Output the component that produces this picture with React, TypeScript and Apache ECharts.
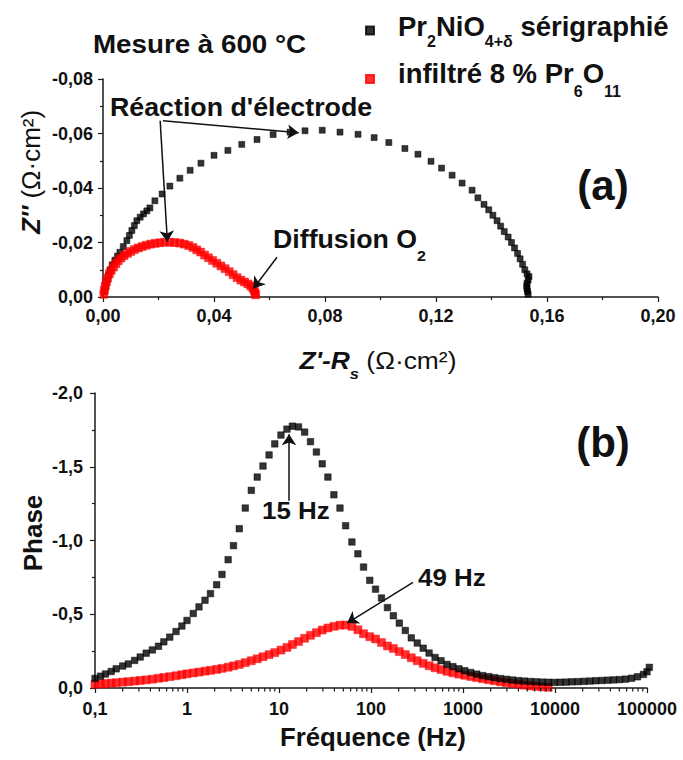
import React, { useEffect, useRef } from 'react';
import * as echarts from 'echarts';

// ---------- DATA ----------
const NAME_A = 'Pr2NiO4+δ sérigraphié';
const NAME_B = 'infiltré 8 % Pr6O11';

// Nyquist (a): Z'-Rs, Z''
const nyqBlackX = [0.0005,0.001,0.0015,0.002,0.0025,0.0033,0.0043,0.0052,0.0061,0.0073,0.0086,0.0095,0.0104,0.0113,0.0122,0.0134,0.0146,0.0158,0.0169,0.0187,0.0213,0.0241,0.0277,0.0314,0.0353,0.040,0.045,0.050,0.0555,0.0613,0.0674,0.0728,0.079,0.0854,0.0919,0.0977,0.103,0.1088,0.1135,0.1182,0.122,0.1258,0.1294,0.133,0.1351,0.1373,0.139,0.1405,0.142,0.1433,0.1446,0.146,0.1472,0.1483,0.1494,0.1503,0.1512,0.152,0.1528,0.1535,0.1532,0.1528,0.1527,0.1528,0.153,0.1532];
const nyqBlackY = [-0.002,-0.004,-0.006,-0.008,-0.0098,-0.0118,-0.0135,-0.015,-0.0164,-0.0185,-0.0207,-0.0226,-0.0244,-0.0262,-0.028,-0.0293,-0.0305,-0.0316,-0.0327,-0.0353,-0.0378,-0.0407,-0.0436,-0.0465,-0.0491,-0.052,-0.0538,-0.056,-0.0578,-0.0596,-0.0605,-0.061,-0.0612,-0.0605,-0.0597,-0.0585,-0.0567,-0.0545,-0.0524,-0.0498,-0.0473,-0.0447,-0.0418,-0.0392,-0.0364,-0.034,-0.032,-0.030,-0.028,-0.026,-0.024,-0.022,-0.020,-0.018,-0.016,-0.014,-0.012,-0.010,-0.0085,-0.0075,-0.0062,-0.005,-0.004,-0.003,-0.002,-0.001];
const nyqRedX = [0.0003,0.0005,0.0008,0.0012,0.0017,0.0023,0.003,0.0038,0.0046,0.0055,0.0065,0.0076,0.0088,0.01,0.0113,0.0127,0.0141,0.0156,0.0172,0.0188,0.0205,0.0222,0.024,0.0258,0.0276,0.0293,0.0309,0.0324,0.0338,0.0352,0.0366,0.038,0.0395,0.041,0.0425,0.044,0.0455,0.0469,0.0483,0.0497,0.051,0.0522,0.0532,0.054,0.0545,0.0548,0.055];
const nyqRedY = [-0.001,-0.0025,-0.004,-0.0055,-0.007,-0.0085,-0.0098,-0.011,-0.0122,-0.0133,-0.0143,-0.0152,-0.016,-0.0167,-0.0174,-0.018,-0.0185,-0.019,-0.0194,-0.0197,-0.0199,-0.0201,-0.0201,-0.02,-0.0198,-0.0194,-0.0189,-0.0182,-0.0173,-0.0165,-0.0154,-0.0144,-0.0134,-0.0124,-0.0114,-0.0104,-0.0093,-0.0082,-0.0071,-0.0062,-0.0055,-0.0048,-0.0041,-0.0033,-0.0024,-0.0015,-0.0008];

// Bode phase (b)
const freqBlack = [0.1,0.115,0.13,0.15,0.17,0.2,0.23,0.27,0.31,0.36,0.42,0.49,0.56,0.65,0.76,0.88,1.0,1.17,1.35,1.57,1.8,2.1,2.4,2.8,3.2,3.7,4.3,5.0,5.8,6.7,7.8,9.0,10.5,12.2,14.0,16.3,19,22,25.5,29.5,34,39.5,46,53,62,72,83,97,112,130,151,175,203,236,274,318,369,428,497,577,670,777,902,1047,1215,1410,1637,1900,2200,2560,2970,3450,4000,4640,5390,6250,7260,8430,9780,11350,13180,15300,17760,20600,23930,27770,32230,37410,43430,50410,58510,67920,78840,91520,100000,106000];
const phaseBlack = [-0.065,-0.08,-0.095,-0.112,-0.13,-0.149,-0.163,-0.187,-0.21,-0.236,-0.258,-0.283,-0.313,-0.345,-0.383,-0.42,-0.458,-0.505,-0.55,-0.595,-0.64,-0.7,-0.77,-0.87,-0.965,-1.08,-1.22,-1.34,-1.43,-1.505,-1.58,-1.655,-1.715,-1.755,-1.775,-1.77,-1.735,-1.67,-1.6,-1.52,-1.43,-1.31,-1.22,-1.1,-0.99,-0.91,-0.82,-0.73,-0.67,-0.61,-0.545,-0.49,-0.44,-0.39,-0.34,-0.305,-0.27,-0.237,-0.207,-0.185,-0.16,-0.145,-0.13,-0.117,-0.105,-0.094,-0.084,-0.077,-0.07,-0.064,-0.059,-0.054,-0.05,-0.047,-0.044,-0.042,-0.04,-0.039,-0.038,-0.039,-0.04,-0.042,-0.043,-0.045,-0.047,-0.049,-0.051,-0.053,-0.055,-0.057,-0.06,-0.066,-0.076,-0.092,-0.11,-0.14];
const freqRed = [0.1,0.115,0.13,0.15,0.17,0.2,0.23,0.27,0.31,0.36,0.42,0.49,0.56,0.65,0.76,0.88,1.0,1.17,1.35,1.57,1.8,2.1,2.4,2.8,3.2,3.7,4.3,5.0,5.8,6.7,7.8,9.0,10.5,12.2,14.0,16.3,19,22,25.5,29.5,34,39.5,46,53,62,72,83,97,112,130,151,175,203,236,274,318,369,428,497,577,670,777,902,1047,1215,1410,1637,1900,2200,2560,2970,3450,4000,4640,5390,6250,7260,8430];
const phaseRed = [-0.025,-0.028,-0.03,-0.033,-0.036,-0.04,-0.043,-0.047,-0.051,-0.055,-0.06,-0.066,-0.071,-0.077,-0.083,-0.09,-0.096,-0.102,-0.108,-0.114,-0.12,-0.126,-0.133,-0.141,-0.15,-0.16,-0.172,-0.185,-0.198,-0.212,-0.226,-0.24,-0.257,-0.275,-0.295,-0.315,-0.337,-0.357,-0.375,-0.393,-0.407,-0.418,-0.426,-0.427,-0.418,-0.395,-0.368,-0.348,-0.332,-0.308,-0.285,-0.268,-0.247,-0.227,-0.205,-0.185,-0.167,-0.151,-0.137,-0.125,-0.113,-0.103,-0.094,-0.086,-0.078,-0.071,-0.063,-0.056,-0.049,-0.042,-0.036,-0.03,-0.025,-0.019,-0.014,-0.011,-0.008,-0.005];

// annotation arrows, in data units [from, to]
const arrowsTop: [number, number][][] = [
  [[0.0206, -0.0647], [0.0232, -0.0203]],
  [[0.0216, -0.0647], [0.0705, -0.0603]],
  [[0.0627, -0.0146], [0.0542, -0.0031]],
];
const arrowsBottom: [number, number][][] = [
  [[12.85, -1.27], [12.85, -1.72]],
  [[286, -0.716], [55, -0.44]],
];

const logDecades = [0.1, 1, 10, 100, 1000, 10000];
const logMinorMult = [2, 3, 4, 5, 6, 7, 8, 9];

const FF = '"Liberation Sans", Arial, Helvetica, sans-serif';
const INK = '#111';

const zip = (a: number[], b: number[]) => a.map((v, i) => [v, b[i]]);

export default function App() {
  const ref = useRef<HTMLDivElement>(null);
  useEffect(() => {
    if (!ref.current) return;
    const chart = echarts.init(ref.current, undefined, { renderer: 'svg' });

    const axisBase = {
      axisLine: { lineStyle: { color: '#1a1a1a', width: 1.5 } },
      axisTick: { length: 5, lineStyle: { color: '#1a1a1a', width: 1.2 } },
      minorTick: { show: true, splitNumber: 2, length: 3, lineStyle: { color: '#1a1a1a', width: 1.2 } },
      splitLine: { show: false },
      axisLabel: { fontSize: 18, fontWeight: 'bold', color: INK, fontFamily: FF, margin: 10 },
    };
    const comma = (d: number) => (v: number) => v.toFixed(d).replace('.', ',');

    const minorTicks: number[][] = [];
    logDecades.forEach((d) => logMinorMult.forEach((m) => minorTicks.push([d * m, 0])));

    const arrowStyle = {
      silent: true,
      symbol: ['none', 'arrow'],
      symbolSize: 11,
      lineStyle: { color: INK, width: 1.5, type: 'solid' },
      label: { show: false },
      emphasis: { disabled: true },
    };

    const mainTok = (size: number, extra: any = {}) => ({
      fontSize: size, fontWeight: 'bold', fontFamily: FF, color: INK, verticalAlign: 'top', padding: [0, 0, 0, 0], ...extra,
    });
    const txt = (x: number, y: number, text: string, size: number, sx: number, extra: any = {}) => ({
      type: 'text', x, y, scaleX: sx,
      style: { text, fontSize: size, fontWeight: 'bold', fontFamily: FF, fill: INK, textVerticalAlign: 'middle', ...extra },
    });
    const blackSq = { color: '#000', borderColor: '#000', borderWidth: 0.6 };
    const redSq = { color: '#ff0000', borderColor: '#ff0000', borderWidth: 0.5 };

    const option: any = {
      animation: false,
      backgroundColor: '#fff',
      legend: {
        orient: 'vertical', left: 365, top: 12, padding: 0, itemGap: 10,
        itemWidth: 8, itemHeight: 8, icon: 'rect', selectedMode: false,
        data: [NAME_A, NAME_B],
        formatter: (n: string) => n === NAME_A
          ? '{m0|Pr}{s|2}{m|NiO}{s|4+δ}{m| sérigraphié}'
          : '{m0|infiltré 8 % Pr}{s2|6}{m|O}{s2|11}',
        textStyle: {
          color: INK, fontFamily: FF, fontSize: 27.5, fontWeight: 'bold',
          rich: {
            m0: mainTok(27.5, { padding: [0, 0, 0, 19] }),
            m: mainTok(27.5),
            s: mainTok(16, { padding: [21, 0, 0, 0] }),
            s2: mainTok(16, { padding: [24, 0, 0, 0] }),
          },
        },
      },
      grid: [
        { left: 103, top: 79, width: 555, height: 218 },
        { left: 95, top: 393, width: 552, height: 295 },
      ],
      xAxis: [
        { ...axisBase, type: 'value', gridIndex: 0, min: 0, max: 0.2, interval: 0.04,
          axisLabel: { ...axisBase.axisLabel, formatter: comma(2) } },
        { ...axisBase, type: 'log', gridIndex: 1, logBase: 10, min: 0.1, max: 100000,
          minorTick: { show: false },
          axisLabel: { ...axisBase.axisLabel, margin: 12,
            formatter: (v: number) => (v < 1 ? String(+v.toFixed(1)).replace('.', ',') : String(Math.round(v))) } },
      ],
      yAxis: [
        { ...axisBase, type: 'value', gridIndex: 0, min: -0.08, max: 0, interval: 0.02, inverse: true,
          axisLabel: { ...axisBase.axisLabel, formatter: comma(2) } },
        { ...axisBase, type: 'value', gridIndex: 1, min: -2, max: 0, interval: 0.5, inverse: true,
          axisLabel: { ...axisBase.axisLabel, margin: 12, formatter: comma(1) } },
      ],
      series: [
        { type: 'scatter', name: NAME_A, xAxisIndex: 0, yAxisIndex: 0, symbol: 'rect', symbolSize: 6,
          itemStyle: blackSq, data: zip(nyqBlackX, nyqBlackY), z: 2 },
        { type: 'scatter', name: NAME_B, xAxisIndex: 0, yAxisIndex: 0, symbol: 'rect', symbolSize: 8,
          itemStyle: redSq, data: zip(nyqRedX, nyqRedY), z: 3,
          markLine: { ...arrowStyle, data: arrowsTop.map((a) => [{ coord: a[0] }, { coord: a[1] }]) } },
        { type: 'scatter', name: NAME_B, xAxisIndex: 1, yAxisIndex: 1, symbol: 'rect', symbolSize: 8,
          itemStyle: redSq, data: zip(freqRed, phaseRed), z: 2,
          markLine: { ...arrowStyle, data: arrowsBottom.map((a) => [{ coord: a[0] }, { coord: a[1] }]) } },
        { type: 'scatter', name: NAME_A, xAxisIndex: 1, yAxisIndex: 1, symbol: 'rect', symbolSize: 6.5,
          itemStyle: blackSq, data: zip(freqBlack, phaseBlack), z: 3, clip: false },
        { type: 'custom', xAxisIndex: 1, yAxisIndex: 1, silent: true, clip: false, z: 4,
          data: minorTicks,
          renderItem: (_p: any, api: any) => {
            const p = api.coord([api.value(0), api.value(1)]);
            return { type: 'line', shape: { x1: p[0], y1: p[1], x2: p[0], y2: p[1] + 3.5 },
              style: { stroke: '#1a1a1a', lineWidth: 1.2 } };
          } },
      ],
      graphic: [
        txt(93, 44, 'Mesure à 600 °C', 25, 1.11),
        txt(110, 107.5, "Réaction d'électrode", 26, 1.03),
        { type: 'text', x: 273, y: 226.5, scaleX: 1.07, style: { text: '{m|Diffusion O}{s|2}', fontSize: 25, fontFamily: FF, fill: INK, textVerticalAlign: 'top',
          rich: { m: mainTok(25), s: mainTok(15, { padding: [22, 0, 0, 0] }) } } },
        txt(603, 185, '(a)', 42, 1.0, { textAlign: 'center' }),
        txt(603, 442, '(b)', 42, 1.0, { textAlign: 'center' }),
        { type: 'text', x: 378, y: 348, scaleX: 1.1, style: { text: "{bi|Z'-R}{bs|s}{r| (Ω·cm²)}", fontSize: 24, fontFamily: FF, fill: INK, textAlign: 'center', textVerticalAlign: 'top',
          rich: { bi: mainTok(24, { fontStyle: 'italic' }), bs: mainTok(15, { fontStyle: 'italic', padding: [18, 0, 0, 0] }), r: mainTok(24, { fontWeight: 'normal' }) } } },
        { type: 'text', x: 31, y: 172, rotation: Math.PI / 2, style: { text: "{bi|Z''}{r| (Ω·cm²)}", fontSize: 26, fontFamily: FF, fill: INK, textAlign: 'center', textVerticalAlign: 'middle',
          rich: { bi: mainTok(26, { fontStyle: 'italic' }), r: mainTok(26, { fontWeight: 'normal' }) } } },
        txt(262, 510, '15 Hz', 24, 1.08),
        txt(418, 577.5, '49 Hz', 24, 1.08),
        txt(373, 737, 'Fréquence (Hz)', 25, 1.03, { textAlign: 'center' }),
        { type: 'text', x: 33, y: 533, rotation: Math.PI / 2, style: { text: 'Phase', fontSize: 26, fontWeight: 'bold', fontFamily: FF, fill: INK, textAlign: 'center', textVerticalAlign: 'middle' } },
      ],
    };
    chart.setOption(option);
    return () => chart.dispose();
  }, []);
  return <div ref={ref} style={{ position: 'absolute', left: 0, top: 0, width: 683, height: 760 }} />;
}
